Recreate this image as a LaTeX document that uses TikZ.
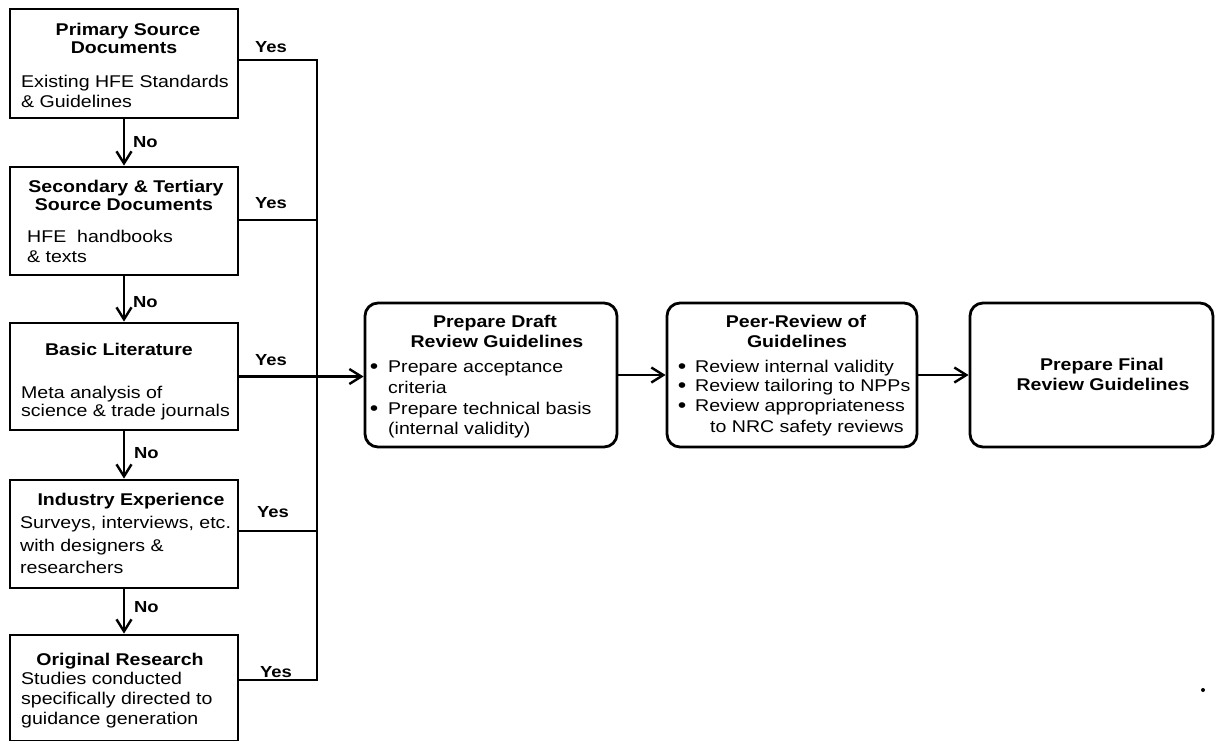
\documentclass[tikz,border=0pt]{standalone}
\usepackage{fontspec}
\setmainfont{Liberation Sans}[FakeStretch=1.15]
\usetikzlibrary{arrows.meta}
\begin{document}
\begin{tikzpicture}[x=1pt,y=-1pt,
  lbox/.style={draw,line width=2.8pt,minimum width=228pt,inner sep=0pt},
  rbox/.style={draw,line width=2.8pt,rounded corners=13pt,minimum height=144pt,inner sep=0pt},
  conn/.style={line width=2.4pt},
  arr/.style={conn,-{Straight Barb[length=12pt,width=15pt,line width=2.4pt]}},
  ttl/.style={font=\fontsize{17}{20}\selectfont\bfseries,anchor=base,inner sep=0pt},
  bdy/.style={anchor=base west,inner sep=0pt},
  lbl/.style={font=\fontsize{16}{19}\selectfont\bfseries,anchor=base west,inner sep=0pt},
  bul/.style={font=\fontsize{21}{21}\selectfont,anchor=base,inner sep=0pt,text height=9pt,text depth=0pt},
  every node/.append style={font=\fontsize{17}{20}\selectfont}
]
\useasboundingbox (0,0) rectangle (1219,740);

% left column boxes
\node[lbox,minimum height=109pt] (b1) at (124,63.5) {};
\node[lbox,minimum height=108pt] (b2) at (124,221) {};
\node[lbox,minimum height=107pt] (b3) at (124,376.5) {};
\node[lbox,minimum height=108pt] (b4) at (124,534) {};
\node[lbox,minimum height=106pt] (b5) at (124,688) {};

% right boxes
\node[rbox,minimum width=252pt] (draft) at (491,375) {};
\node[rbox,minimum width=250pt] (peer) at (792,375) {};
\node[rbox,minimum width=243pt] (final) at (1091.5,375) {};

% texts box 1
\node[ttl] (t1a) at (128,35) {Primary Source};
\node[ttl] (t1b) at (124,53) {Documents};
\node[bdy] (t1c) at (21,87) {Existing HFE Standards};
\node[bdy] (t1d) at (21,107) {\& Guidelines};
% box 2
\node[ttl] (t2a) at (126,192) {Secondary \& Tertiary};
\node[ttl] (t2b) at (124,210) {Source Documents};
\node[bdy] (t2c) at (27,242) {HFE\ \ handbooks};
\node[bdy] (t2d) at (27,262) {\& texts};
% box 3
\node[ttl] (t3a) at (119,355) {Basic Literature};
\node[bdy] (t3b) at (21,398) {Meta analysis of};
\node[bdy] (t3c) at (21,416) {science \& trade journals};
% box 4
\node[ttl] (t4a) at (131,505) {Industry Experience};
\node[bdy] (t4b) at (20,528) {Surveys, interviews, etc.};
\node[bdy] (t4c) at (20,551) {with designers \&};
\node[bdy] (t4d) at (20,573) {researchers};
% box 5
\node[ttl] (t5a) at (120,665) {Original Research};
\node[bdy] (t5b) at (21,684) {Studies conducted};
\node[bdy] (t5c) at (21,704) {specifically directed to};
\node[bdy] (t5d) at (21,724) {guidance generation};

% draft box texts
\node[ttl] (d1) at (495,327) {Prepare Draft};
\node[ttl] (d2) at (497,347) {Review Guidelines};
\node[bul] (db1) at (374,373) {•};
\node[bdy] (d3) at (388,372) {Prepare acceptance};
\node[bdy] (d4) at (388,393) {criteria};
\node[bul] (db2) at (374,415) {•};
\node[bdy] (d5) at (388,414) {Prepare technical basis};
\node[bdy] (d6) at (388,434) {(internal validity)};

% peer box texts
\node[ttl] (p1) at (796,327) {Peer-Review of};
\node[ttl] (p2) at (797,347) {Guidelines};
\node[bul] (pb1) at (682,373) {•};
\node[bdy] (p3) at (695,372) {Review internal validity};
\node[bul] (pb2) at (682,392) {•};
\node[bdy] (p4) at (695,391) {Review tailoring to NPPs};
\node[bul] (pb3) at (682,412) {•};
\node[bdy] (p5) at (695,411) {Review appropriateness};
\node[bdy] (p6) at (710,432) {to NRC safety reviews};

% final box texts
\node[ttl] (f1) at (1102,370) {Prepare Final};
\node[ttl] (f2) at (1103,390) {Review Guidelines};

% junction coordinates on the Yes bus
\coordinate (j1) at (317,60);
\coordinate (j2) at (317,220);
\coordinate (j4) at (317,531);
\coordinate (j5) at (317,680);

% Yes lines
\draw[conn] (b1.east |- j1) -- (j1) -- (j5) -- (b5.east |- j5);
\draw[conn] (b2.east |- j2) -- (j2);
\draw[conn] (b4.east |- j4) -- (j4);
\draw[arr] (b3.east) -- (draft.west |- b3.east);

% No arrows
\draw[arr] (b1.south) -- (b2.north);
\draw[arr] (b2.south) -- (b3.north);
\draw[arr] (b3.south) -- (b4.north);
\draw[arr] (b4.south) -- (b5.north);

% main flow arrows
\draw[arr] (draft.east) -- (peer.west);
\draw[arr] (peer.east) -- (final.west);

% Yes / No labels
\node[lbl] (y1) at (255,52) {Yes};
\node[lbl] (y2) at (255,208) {Yes};
\node[lbl] (y3) at (255,365) {Yes};
\node[lbl] (y4) at (257,517) {Yes};
\node[lbl] (y5) at (260,677) {Yes};
\node[lbl] (n1) at (133,147) {No};
\node[lbl] (n2) at (133,307) {No};
\node[lbl] (n3) at (134,458) {No};
\node[lbl] (n4) at (134,612) {No};

% stray dot
\fill (1203,690) circle (2pt);
\end{tikzpicture}
\end{document}
